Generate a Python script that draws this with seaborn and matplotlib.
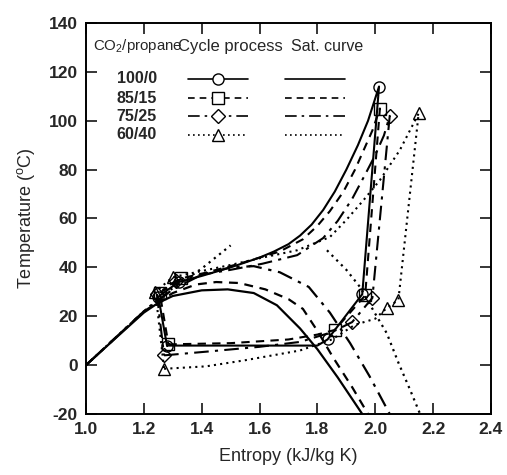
import matplotlib
matplotlib.use("Agg")
import matplotlib.pyplot as plt
import seaborn as sns
import pandas as pd
from matplotlib.lines import Line2D

# ---- data: CO2/propane mixtures, T-s diagram ----
mixtures = ["100/0", "85/15", "75/25", "60/40"]

# saturation curves (entropy kJ/kg K, temperature degC); branch 0 = liquid side, 1 = vapour side
sat_s_100 = [1.00, 1.10, 1.20, 1.25, 1.30, 1.40, 1.49, 1.58, 1.66, 1.74, 1.80, 1.87, 1.955]
sat_T_100 = [0.0, 10.8, 21.5, 25.5, 28.3, 30.6, 31.0, 29.5, 24.5, 15.0, 6.5, -5.0, -20.0]
sat_b_100 = [0] * 13
sat_s_85 = [1.00, 1.10, 1.20, 1.30, 1.38, 1.45, 1.53, 1.62, 1.70, 1.75, 1.80, 1.855, 1.92, 1.975]
sat_T_85 = [0.0, 11.0, 22.0, 29.5, 33.0, 34.0, 33.6, 31.0, 27.0, 23.0, 14.0, 3.0, -9.0, -20.0]
sat_b_85 = [0] * 14
sat_s_75 = [1.00, 1.10, 1.20, 1.30, 1.40, 1.50, 1.58, 1.67, 1.77, 1.843, 1.913, 1.98, 2.05]
sat_T_75 = [0.0, 11.0, 22.0, 31.0, 37.0, 40.0, 40.5, 38.0, 32.0, 21.5, 9.0, -4.5, -20.0]
sat_b_75 = [0] * 13
sat_s_60 = [1.00, 1.10, 1.20, 1.25, 1.30, 1.40, 1.50,
            1.833, 1.90, 1.947, 2.00, 2.04, 2.08, 2.12, 2.155]
sat_T_60 = [0.0, 11.0, 22.0, 27.0, 31.5, 39.5, 49.0,
            47.0, 39.0, 32.0, 21.0, 13.0, 1.0, -10.0, -20.0]
sat_b_60 = [0] * 7 + [1] * 8

# cycle processes: evaporation, suction superheat, compression, gas cooling, IHX, expansion
cyc_s_100 = [1.28, 1.50, 1.70, 1.80, 1.835, 1.955, 2.013, 1.975, 1.94, 1.90, 1.86, 1.82,
             1.78, 1.74, 1.70, 1.65, 1.60, 1.50, 1.40, 1.32, 1.25, 1.28]
cyc_T_100 = [8.0, 8.0, 8.0, 8.0, 10.5, 29.0, 114.0, 100.0, 90.0, 80.0, 71.0, 63.5,
             57.5, 53.0, 49.5, 46.5, 44.0, 40.0, 36.5, 34.0, 28.0, 8.0]
cyc_s_85 = [1.285, 1.50, 1.70, 1.80, 1.86, 1.965, 2.016, 1.99, 1.96, 1.93, 1.89, 1.843,
            1.80, 1.75, 1.67, 1.53, 1.42, 1.33, 1.255, 1.285]
cyc_T_85 = [8.5, 9.0, 10.5, 12.5, 14.4, 28.5, 105.0, 96.0, 88.0, 80.0, 71.0, 63.0,
            57.0, 51.5, 46.5, 41.5, 38.0, 35.5, 29.5, 8.5]
cyc_s_75 = [1.27, 1.415, 1.60, 1.74, 1.85, 1.92, 1.99, 2.05, 2.03, 2.00, 1.965, 1.92, 1.87,
            1.82, 1.73, 1.61, 1.50, 1.40, 1.31, 1.245, 1.27]
cyc_T_75 = [4.0, 5.5, 7.5, 9.5, 13.5, 17.6, 27.5, 102.0, 94.0, 86.0, 78.0, 68.0, 59.0,
            52.0, 45.0, 41.5, 39.0, 37.0, 34.5, 29.0, 4.0]
cyc_s_60 = [1.27, 1.415, 1.55, 1.74, 1.85, 1.93, 2.00, 2.04, 2.08, 2.15, 2.085, 2.016, 1.96,
            1.90, 1.843, 1.73, 1.61, 1.50, 1.40, 1.30, 1.24, 1.27]
cyc_T_60 = [-1.5, -0.5, 2.0, 6.0, 10.5, 16.5, 19.0, 23.4, 26.7, 103.0, 88.0, 75.7, 67.6,
            59.4, 52.4, 47.0, 44.0, 41.0, 38.5, 36.0, 30.0, -1.5]

x_ticks = [1.0, 1.2, 1.4, 1.6, 1.8, 2.0, 2.2, 2.4]
y_ticks = [-20, 0, 20, 40, 60, 80, 100, 120, 140]

sat_curves = [(sat_s_100, sat_T_100, sat_b_100), (sat_s_85, sat_T_85, sat_b_85),
              (sat_s_75, sat_T_75, sat_b_75), (sat_s_60, sat_T_60, sat_b_60)]
cycles = [(cyc_s_100, cyc_T_100), (cyc_s_85, cyc_T_85),
          (cyc_s_75, cyc_T_75), (cyc_s_60, cyc_T_60)]

# ---- styling ----
line_styles = ["-", (0, (4, 3)), (0, (7, 3, 1.5, 3)), (0, (1, 2))]
markers = ["o", "s", "D", "^"]
marker_sizes = [8, 8, 7, 8]
marker_idx = [
    [0, 4, 5, 6, 19, 20],
    [0, 4, 5, 6, 17, 18],
    [0, 5, 6, 7, 18, 19],
    [0, 7, 8, 9, 19, 20],
]

sns.set_style("ticks")
plt.rcParams["font.family"] = ["Liberation Sans", "DejaVu Sans"]
plt.rcParams["mathtext.fontset"] = "custom"
plt.rcParams["mathtext.rm"] = "Liberation Sans"
plt.rcParams["mathtext.default"] = "regular"

fig = plt.figure(figsize=(5.07, 4.75), dpi=100)
ax = fig.add_axes([0.1696, 0.1284, 0.7988, 0.8232])

for (s, T, b), ls in zip(sat_curves, line_styles):
    df = pd.DataFrame({"s": s, "T": T, "branch": b})
    sns.lineplot(data=df, x="s", y="T", units="branch", sort=False, estimator=None,
                 ax=ax, color="black", linestyle=ls, linewidth=1.6, legend=False)

for (s, T), ls, mk, ms, idx in zip(cycles, line_styles, markers, marker_sizes, marker_idx):
    df = pd.DataFrame({"s": s, "T": T})
    sns.lineplot(data=df, x="s", y="T", sort=False, estimator=None, ax=ax,
                 color="black", linestyle=ls, linewidth=1.5, marker=mk,
                 markersize=ms, markevery=idx, markerfacecolor="none",
                 markeredgecolor="black", markeredgewidth=1.0, legend=False)

ax.set_xlim(1.0, 2.4)
ax.set_ylim(-20, 140)
ax.set_xticks(x_ticks)
ax.set_yticks(y_ticks)
ax.set_xticklabels([f"{v:.1f}" for v in x_ticks])
ax.set_yticklabels([str(v) for v in y_ticks])
ax.tick_params(direction="in", length=8, width=1.3, top=True, right=True,
               labeltop=False, labelright=False, labelsize=12.5, pad=6)
for lab in ax.get_xticklabels() + ax.get_yticklabels():
    lab.set_fontweight("bold")
for sp in ax.spines.values():
    sp.set_linewidth(1.4)
    sp.set_color("black")

ax.set_xlabel("Entropy (kJ/kg K)", fontsize=13, labelpad=8)
ax.set_ylabel("Temperature ($^{o}$C)", fontsize=13, labelpad=8)

# legend table: mixture | cycle process | saturation curve
tr = ax.transAxes
ax.text(0.018, 0.941, "CO$_2$/propane", transform=tr, fontsize=10.8, va="center", ha="left")
ax.text(0.228, 0.941, "Cycle process", transform=tr, fontsize=12, va="center", ha="left")
ax.text(0.505, 0.941, "Sat. curve", transform=tr, fontsize=11.5, va="center", ha="left")
rows_y = [0.857, 0.808, 0.762, 0.714]
for name, ls, mk, ms, y in zip(mixtures, line_styles, markers, marker_sizes, rows_y):
    ax.text(0.076, y, name, transform=tr, fontsize=11.5, fontweight="bold",
            va="center", ha="left")
    ax.add_line(Line2D([0.252, 0.40], [y, y], transform=tr, color="black",
                       linestyle=ls, linewidth=1.2))
    ax.add_line(Line2D([0.326], [y], transform=tr, color="black", marker=mk,
                       markersize=ms, markerfacecolor="white",
                       markeredgecolor="black", markeredgewidth=1.0, linestyle="none"))
    ax.add_line(Line2D([0.491, 0.640], [y, y], transform=tr, color="black",
                       linestyle=ls, linewidth=1.2))

fig.savefig("out.png", dpi=100)
